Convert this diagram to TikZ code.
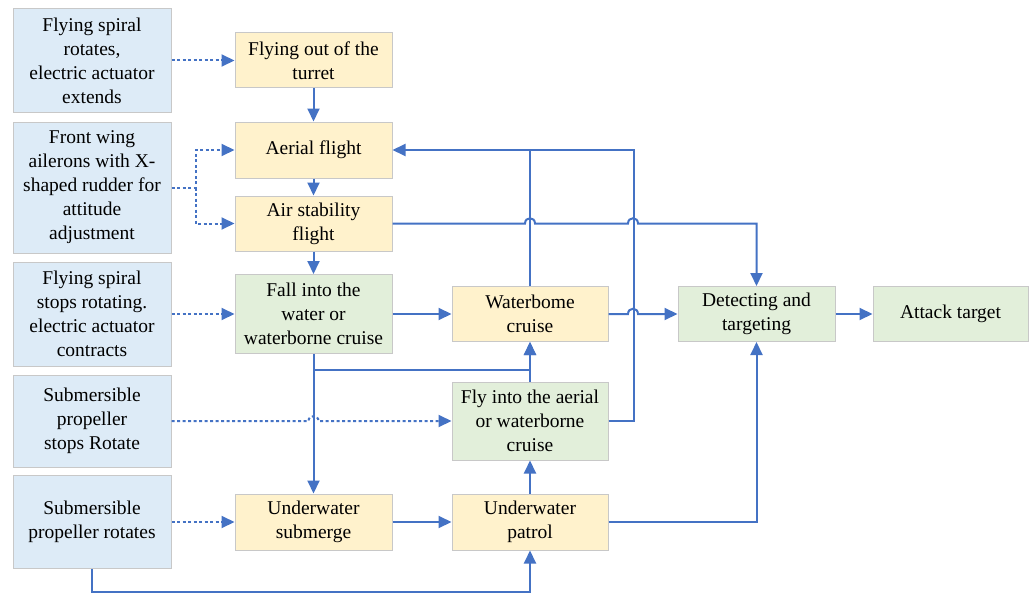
\documentclass[tikz,border=0pt]{standalone}
\usepackage{fontspec}
\setmainfont{Liberation Serif}
\newfontfamily\tnr{Liberation Serif}
\usetikzlibrary{arrows.meta,calc}
\definecolor{bfill}{HTML}{DDEBF7}
\definecolor{yfill}{HTML}{FFF2CC}
\definecolor{gfill}{HTML}{E2EFDA}
\definecolor{boxline}{HTML}{C8C8C8}
\definecolor{lc}{HTML}{4472C4}
\begin{document}
\begin{tikzpicture}[x=1pt,y=-1pt,
  box/.style={draw=boxline, line width=1pt, align=center, inner sep=0pt,
    font=\tnr\fontsize{19.5}{24}\selectfont},
  bluebox/.style={box, fill=bfill, minimum width=158pt},
  ybox/.style={box, fill=yfill, minimum width=157pt},
  gbox/.style={box, fill=gfill, minimum width=157pt},
  ln/.style={draw=lc, line width=2pt},
  arr/.style={ln, -{Triangle[length=13pt,width=12pt]}},
  dsh/.style={arr, dash pattern=on 3pt off 2.5pt}]
\useasboundingbox (0,0) rectangle (1031,594);

% left column
\node[bluebox, minimum height=104pt] (L1) at (92,60.5) {Flying spiral\\rotates,\\electric actuator\\extends};
\node[bluebox, minimum height=131pt] (L2) at (92,187.5) {Front wing\\ailerons with X-\\shaped rudder for\\attitude\\adjustment};
\node[bluebox, minimum height=104pt] (L3) at (92,314) {Flying spiral\\stops rotating.\\electric actuator\\contracts};
\node[bluebox, minimum height=92pt] (L4) at (92,421) {Submersible\\propeller\\stops Rotate};
\node[bluebox, minimum height=93pt] (L5) at (92,522) {Submersible\\propeller rotates};

% second column
\node[ybox, minimum height=55pt] (turret) at (313.5,60.5) {Flying out of the\\turret};
\node[ybox, minimum height=56pt] (aerial) at (313.5,150) {Aerial flight};
\node[ybox, minimum height=55pt] (airstab) at (313.5,223.5) {Air stability\\flight};
\node[gbox, minimum height=79pt] (fall) at (313.5,314) {Fall into the\\water or\\waterborne cruise};
\node[ybox, minimum height=56pt] (submerge) at (313.5,522) {Underwater\\submerge};

% third column
\node[ybox, minimum height=55pt, minimum width=156pt] (water) at (530,314) {Waterbome\\cruise};
\node[gbox, minimum height=78pt, minimum width=156pt] (flyinto) at (530,421) {Fly into the aerial\\or waterborne\\cruise};
\node[ybox, minimum height=56pt, minimum width=156pt] (patrol) at (530,522) {Underwater\\patrol};

% right
\node[gbox, minimum height=55pt] (detect) at (756.5,314) {Detecting and\\targeting};
\node[gbox, minimum height=55pt, minimum width=155pt] (attack) at (950.5,314) {Attack target};

% dashed connectors
\draw[dsh] (L1.east) -- (turret.west);
\draw[dsh] (L2.east) -- ++(24,0) coordinate (s2) |- (aerial.west);
\draw[dsh] (s2) |- (airstab.west);
\draw[dsh] (L3.east) -- (fall.west);
\draw[dsh] (L4.east) -- (308.5,421) .. controls (308.5,414.5) and (318.5,414.5) .. (318.5,421) -- (flyinto.west);
\draw[dsh] (L5.east) -- (submerge.west);

% solid connectors
\draw[arr] (turret) -- (aerial);
\draw[arr] (aerial) -- (airstab);
\draw[arr] (airstab) -- (fall);
\draw[arr] (fall) -- (submerge);
\draw[arr] (fall) -- (water);
\coordinate (j2) at ($(fall.south)+(0,16)$);
\draw[arr] (j2) -| (water.south);
\draw[arr] (flyinto.north) -- (water.south);
\draw[arr] (patrol) -- (flyinto);
\draw[arr] (submerge) -- (patrol);
\draw[arr] (L5.south) -- ++(0,23) -| (patrol.south);
\draw[arr] (patrol.east) -| (detect.south);
\draw[arr] (detect) -- (attack);
\draw[ln] (water.north) -- (water.north |- aerial.east);
\draw[arr] (flyinto.east) -| ($(aerial.east)+(241,0)$) -- (aerial.east);
\draw[arr] (airstab.east) -- (525,223.5) .. controls (525,216.5) and (535,216.5) .. (535,223.5)
  -- (628,223.5) .. controls (628,216.5) and (638,216.5) .. (638,223.5) -| (detect.north);
\draw[arr] (water.east) -- (628,314) .. controls (628,307) and (638,307) .. (638,314) -- (detect.west);
\end{tikzpicture}
\end{document}
